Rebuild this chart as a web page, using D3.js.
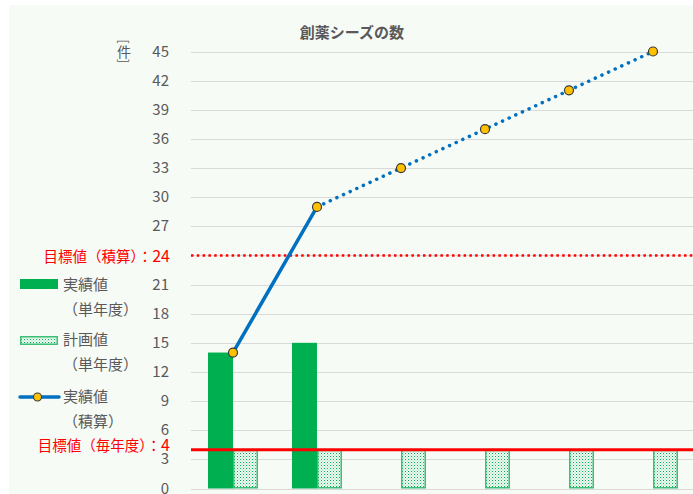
<!DOCTYPE html>
<html><head><meta charset="utf-8">
<script src="https://cdn.jsdelivr.net/npm/d3@7"></script>
<style>body{margin:0;background:#fff}svg{display:block}</style>
</head><body>
<svg id="c" width="693" height="494"></svg>
<script>
const categories = ["1","2","3","4","5","6"];
const actualAnnual = [14, 15, null, null, null, null];
const planAnnual = [4, 4, 4, 4, 4, 4];
const actualCumulative = [14, 29, 33, 37, 41, 45];
const solidCount = 2; // first two cumulative points are actual (solid)
const targetCumulative = 24;
const targetAnnual = 4;
const yTicks = d3.range(0, 46, 3);
const title = "創薬シーズの数";
const unitLabel = ["[", "件", "]"];
const legendLabels = [["実績値","（単年度）"],["計画値","（単年度）"],["実績値","（積算）"]];
const targetLabels = ["目標値（積算）：", "目標値（毎年度）："];

const svg = d3.select("#c");
const font = "'Noto Sans CJK JP', 'Noto Sans', sans-serif";
const gray = "#595959", green = "#00B050", blue = "#0070C0", red = "#FF0000";

svg.append("rect").attr("x", 9).attr("y", 5).attr("width", 684).attr("height", 489).attr("fill", "#F7FBF6");

const defs = svg.append("defs");
const pat = defs.append("pattern").attr("id", "dots").attr("patternUnits", "userSpaceOnUse")
  .attr("width", 3).attr("height", 3);
pat.append("rect").attr("width", 3).attr("height", 3).attr("fill", "#F0FAF3");
pat.append("rect").attr("x", 0).attr("y", 0).attr("width", 1).attr("height", 1).attr("fill", green);
pat.append("rect").attr("x", 1.5).attr("y", 1.5).attr("width", 1).attr("height", 1).attr("fill", "#6fd29c");

const x0 = 191, x1 = 695;
const x = d3.scaleBand().domain(categories).range([x0, x1]).paddingInner(0.4048).paddingOuter(0.2024);
const y = d3.scaleLinear().domain([0, 45]).range([488.5, 51.5]);
const barW = x.bandwidth() / 2;
const cx = c => x(c) + x.bandwidth() / 2;

// gridlines
svg.append("g").selectAll("line").data(yTicks).join("line")
  .attr("x1", x0).attr("x2", 693).attr("y1", d => Math.round(y(d)) + 0.5).attr("y2", d => Math.round(y(d)) + 0.5)
  .attr("stroke", "#D9D9D9").attr("stroke-width", 1);

// y axis labels (the target value 24 is labelled in red instead)
const yAxis = d3.axisLeft(y).tickValues(yTicks.filter(t => t !== targetCumulative)).tickSize(0).tickPadding(0);
const ga = svg.append("g").attr("transform", "translate(169,0)").call(yAxis);
ga.select(".domain").remove();
ga.selectAll("text").attr("font-family", font).attr("font-size", 15).attr("fill", gray).attr("dy", "0.3em");

// bars
svg.append("g").selectAll("rect").data(categories.filter((c, i) => actualAnnual[i] != null)).join("rect")
  .attr("x", c => x(c)).attr("width", barW)
  .attr("y", c => y(actualAnnual[categories.indexOf(c)]))
  .attr("height", c => y(0) - y(actualAnnual[categories.indexOf(c)]))
  .attr("fill", green);
svg.append("g").selectAll("rect").data(categories).join("rect")
  .attr("x", c => x(c) + barW + 0.75).attr("width", barW - 1.5)
  .attr("y", (c, i) => y(planAnnual[i]) + 0.75)
  .attr("height", (c, i) => y(0) - y(planAnnual[i]) - 1.5)
  .attr("fill", "url(#dots)").attr("stroke", "#3DBF78").attr("stroke-width", 1.5);

// target lines
svg.append("line").attr("x1", x0).attr("x2", 693).attr("y1", y(targetCumulative)).attr("y2", y(targetCumulative))
  .attr("stroke", red).attr("stroke-width", 2.5).attr("stroke-dasharray", "2.5 3.3");
svg.append("line").attr("x1", x0).attr("x2", 693).attr("y1", y(targetAnnual)).attr("y2", y(targetAnnual))
  .attr("stroke", red).attr("stroke-width", 3);

// cumulative line
const line = d3.line().x(d => cx(d.c)).y(d => y(d.v));
const pts = categories.map((c, i) => ({c, v: actualCumulative[i]}));
svg.append("path").datum(pts.slice(0, solidCount)).attr("d", line)
  .attr("fill", "none").attr("stroke", blue).attr("stroke-width", 3.5).attr("stroke-linecap", "round");
svg.append("path").datum(pts.slice(solidCount - 1)).attr("d", line)
  .attr("fill", "none").attr("stroke", blue).attr("stroke-width", 3.5)
  .attr("stroke-linecap", "round").attr("stroke-dasharray", "0.1 7.2");
svg.append("g").selectAll("circle").data(pts).join("circle")
  .attr("cx", d => cx(d.c)).attr("cy", d => y(d.v)).attr("r", 4.5)
  .attr("fill", "#FFC000").attr("stroke", "#3a3a3a").attr("stroke-width", 1.2);

// title
svg.append("text").attr("x", 352).attr("y", 33).attr("dy", "0.35em").attr("text-anchor", "middle")
  .attr("font-family", font).attr("font-size", 15).attr("font-weight", "bold").attr("fill", gray).text(title);

// unit label (vertical: brackets rotated above and below)
const ul = svg.append("g").attr("font-family", font).attr("fill", gray);
ul.append("text").attr("transform", "translate(124,41.5) rotate(90)").attr("text-anchor", "middle")
  .attr("dominant-baseline", "central").attr("font-size", 13).text(unitLabel[0]);
ul.append("text").attr("x", 124).attr("y", 51).attr("text-anchor", "middle")
  .attr("dominant-baseline", "central").attr("font-size", 14).text(unitLabel[1]);
ul.append("text").attr("transform", "translate(124,61) rotate(90)").attr("text-anchor", "middle")
  .attr("dominant-baseline", "central").attr("font-size", 13).text(unitLabel[2]);

// target labels
const tl = [[targetLabels[0], targetCumulative], [targetLabels[1], targetAnnual]];
tl.forEach(([lab, v], i) => {
  const t = svg.append("text").attr("x", 170).attr("y", i === 0 ? y(v) + 1 : y(v) - 4).attr("dy", "0.35em")
    .attr("text-anchor", "end").attr("font-family", font).attr("fill", red);
  t.append("tspan").attr("font-size", 14.5).text(lab);
  t.append("tspan").attr("font-size", 16).text(v);
});

// legend
const lg = svg.append("g").attr("font-family", font).attr("font-size", 15).attr("fill", gray);
const rowY = [285, 340, 397];
lg.append("rect").attr("x", 20).attr("y", 279).attr("width", 38).attr("height", 10).attr("fill", green);
lg.append("rect").attr("x", 20.75).attr("y", 336.75).attr("width", 36.5).attr("height", 7.5)
  .attr("fill", "url(#dots)").attr("stroke", "#3DBF78").attr("stroke-width", 1.5);
lg.append("line").attr("x1", 20).attr("x2", 59).attr("y1", 397).attr("y2", 397)
  .attr("stroke", blue).attr("stroke-width", 3.5).attr("stroke-linecap", "round");
lg.append("circle").attr("cx", 37.5).attr("cy", 397).attr("r", 4).attr("fill", "#FFC000").attr("stroke", "#3a3a3a").attr("stroke-width", 1.1);
legendLabels.forEach((ls, i) => {
  lg.append("text").attr("x", 63).attr("y", rowY[i]).attr("dy", "0.35em").text(ls[0]);
  lg.append("text").attr("x", 63).attr("y", rowY[i] + 25).attr("dy", "0.35em").text(ls[1]);
});
</script>
</body></html>
